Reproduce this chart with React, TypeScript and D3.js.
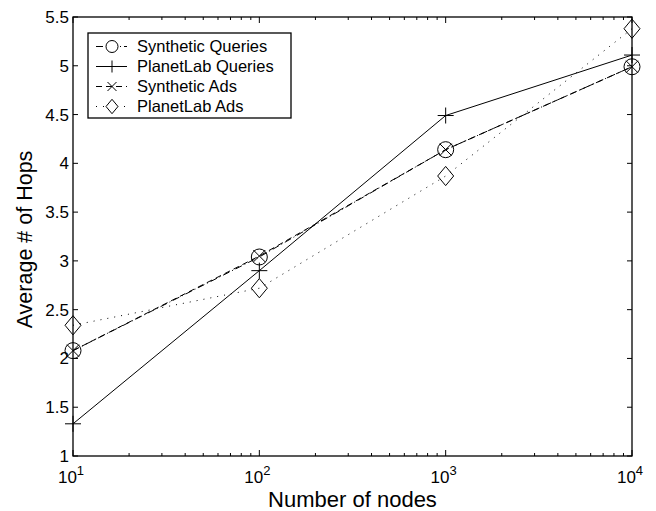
import React from 'react';
import * as d3 from 'd3';

const W = 656;
const H = 511;
const margin = {left: 73, right: 24, top: 17, bottom: 55};

const nodes = [10, 100, 1000, 10000];
const synthQueries = [2.08, 3.04, 4.14, 4.99];
const planetQueries = [1.33, 2.9, 4.49, 5.11];
const synthAds = [2.08, 3.05, 4.14, 4.99];
const planetAds = [2.34, 2.72, 3.87, 5.38];

const yTicks = [1, 1.5, 2, 2.5, 3, 3.5, 4, 4.5, 5, 5.5];
const xTicks = [10, 100, 1000, 10000];
const xExp = ['1', '2', '3', '4'];

type Marker = 'circle' | 'plus' | 'x' | 'diamond';

const series: {name: string; values: number[]; dash: string; marker: Marker}[] = [
  {name: 'Synthetic Queries', values: synthQueries, dash: '7,3,1,3', marker: 'circle'},
  {name: 'PlanetLab Queries', values: planetQueries, dash: 'none', marker: 'plus'},
  {name: 'Synthetic Ads', values: synthAds, dash: '6,4', marker: 'x'},
  {name: 'PlanetLab Ads', values: planetAds, dash: '1,6', marker: 'diamond'},
];

const markerPath = (m: Marker, s: number) => {
  const p = d3.path();
  if (m === 'circle') {
    p.arc(0, 0, s, 0, Math.PI * 2);
  } else if (m === 'plus') {
    p.moveTo(-s, 0); p.lineTo(s, 0);
    p.moveTo(0, -s); p.lineTo(0, s);
  } else if (m === 'x') {
    const k = s * 0.75;
    p.moveTo(-k, -k); p.lineTo(k, k);
    p.moveTo(-k, k); p.lineTo(k, -k);
  } else {
    const w = s, h = s * 1.2;
    p.moveTo(0, -h); p.lineTo(w, 0); p.lineTo(0, h); p.lineTo(-w, 0); p.closePath();
  }
  return p.toString();
};

export default function App() {
  const x = d3.scaleLog().domain([10, 10000]).range([margin.left, W - margin.right]);
  const y = d3.scaleLinear().domain([1, 5.5]).range([H - margin.bottom, margin.top]);
  const [x0, x1] = x.range();
  const [y0, y1] = y.range();
  const line = d3.line<number>().x((_, i) => x(nodes[i])).y(d => y(d));
  const minor: number[] = [];
  for (let dec = 10; dec < 10000; dec *= 10) for (let k = 2; k <= 9; k++) minor.push(dec * k);
  const font = 'Liberation Sans, Arial, Helvetica, sans-serif';

  return (
    <svg width={W} height={H} style={{position: 'absolute', left: 0, top: 0, background: '#fff'}} fontFamily={font}>
      <rect width={W} height={H} fill="#fff" />
      {/* box */}
      <rect x={x0} y={y1} width={x1 - x0} height={y0 - y1} fill="none" stroke="#000" strokeWidth={1.3} />
      {/* y ticks */}
      {yTicks.map(t => (
        <g key={t}>
          <line x1={x0} x2={x0 + 5} y1={y(t)} y2={y(t)} stroke="#000" />
          <line x1={x1} x2={x1 - 5} y1={y(t)} y2={y(t)} stroke="#000" />
          <text x={x0 - 4} y={y(t)} dy="0.35em" textAnchor="end" fontSize={17}>{String(t)}</text>
        </g>
      ))}
      {/* x ticks */}
      {xTicks.map((t, i) => (
        <g key={t}>
          <line x1={x(t)} x2={x(t)} y1={y0} y2={y0 - 6} stroke="#000" />
          <line x1={x(t)} x2={x(t)} y1={y1} y2={y1 + 6} stroke="#000" />
          <text x={x(t) - 2} y={y0 + 27} textAnchor="middle" fontSize={17}>
            10<tspan dy={-8} fontSize={13}>{xExp[i]}</tspan>
          </text>
        </g>
      ))}
      {minor.map(t => (
        <g key={t}>
          <line x1={x(t)} x2={x(t)} y1={y0} y2={y0 - 3} stroke="#000" />
          <line x1={x(t)} x2={x(t)} y1={y1} y2={y1 + 3} stroke="#000" />
        </g>
      ))}
      <text x={(x0 + x1) / 2} y={H - 4} textAnchor="middle" fontSize={22}>Number of nodes</text>
      <text transform={`translate(32,${(y0 + y1) / 2 + 3}) rotate(-90)`} textAnchor="middle" fontSize={21.5}>Average # of Hops</text>
      {/* series */}
      {series.map(s => (
        <g key={s.name}>
          <path d={line(s.values) || ''} fill="none" stroke="#000" strokeWidth={1} strokeDasharray={s.dash} />
          {s.values.map((v, i) => (
            <path key={i} d={markerPath(s.marker, 8)} transform={`translate(${x(nodes[i])},${y(v)})`} fill="none" stroke="#000" strokeWidth={1} />
          ))}
        </g>
      ))}
      {/* legend */}
      <rect x={88} y={33} width={203} height={85} fill="#fff" stroke="#000" strokeWidth={1.3} />
      {series.map((s, i) => {
        const ly = 46.5 + i * 20;
        return (
          <g key={s.name}>
            <line x1={96} x2={127} y1={ly} y2={ly} stroke="#000" strokeWidth={1} strokeDasharray={s.dash} />
            <path d={markerPath(s.marker, 6)} transform={`translate(112,${ly})`} fill="#fff" stroke="#000" strokeWidth={1} />
            <text x={137} y={ly} dy="0.35em" fontSize={16.5}>{s.name}</text>
          </g>
        );
      })}
    </svg>
  );
}
